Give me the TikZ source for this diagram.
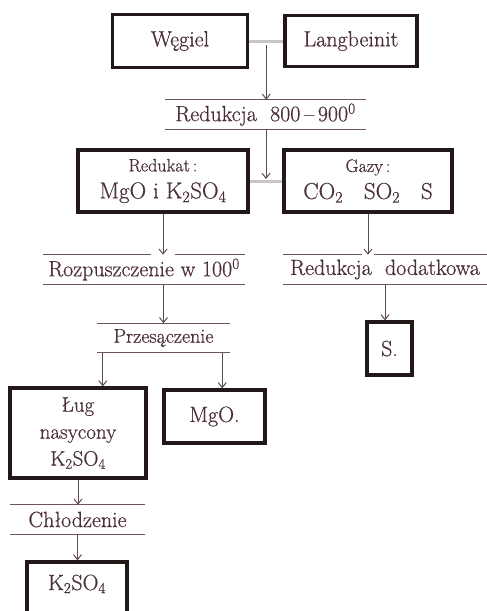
\documentclass[tikz,border=0pt]{standalone}
\usepackage{fontspec}
\setmainfont{Latin Modern Roman}[FakeBold=0.6]
\usetikzlibrary{positioning,arrows.meta}
\definecolor{cInk}{HTML}{4B2E3C}
\definecolor{cBox}{HTML}{231818}
\definecolor{cJn}{HTML}{C9C4C6}
\definecolor{cArr}{HTML}{5E4A54}
\definecolor{cRule}{HTML}{6A5560}

\begin{document}
\begin{tikzpicture}[x=1pt,y=1pt,
  every node/.style={text=cInk,font=\fontsize{22}{26}\selectfont},
  box/.style={draw=cBox,line width=3.2pt,inner sep=0pt,align=center},
  stage/.style={inner sep=0pt,minimum height=29pt},
  junc/.style={draw=cJn,line width=3pt},
  arr/.style={draw=cArr,line width=1pt,-{Straight Barb[length=5pt,width=8pt]}},
  rule/.style={draw=cRule,line width=1.2pt}]
\clip (0,0) rectangle (487,-611);
\fill[white] (0,0) rectangle (487,-611);
% --- raw materials ---
\node[box,minimum width=135pt,minimum height=53pt] (weg) at (180,-41) {Węgiel};
\node[box,minimum width=132pt,minimum height=51pt] (lang) at (351,-41) {Langbeinit};
\node[stage,minimum width=201pt] (red) at (265.5,-114.5) {Redukcja\ \ 800\,--\,900\textsuperscript{0}};
% --- products of reduction ---
\node[box,minimum width=170pt,minimum height=62pt] (redk) at (163,-181)
  {{\fontsize{18}{19}\selectfont Redukat\,:}\\[1pt] {\fontsize{23}{26}\selectfont MgO\ i\ K\textsubscript{2}SO\textsubscript{4}}};
\node[box,minimum width=168pt,minimum height=62pt] (gazy) at (368,-181)
  {{\fontsize{18}{19}\selectfont Gazy\,:}\\[1pt] {\fontsize{23}{26}\selectfont CO\textsubscript{2}\ \ \ SO\textsubscript{2}\ \ \ S}};
\node[stage,minimum width=202pt] (rozp) at (144,-269.5) {Rozpuszczenie w 100\textsuperscript{0}};
\node[stage,minimum width=204pt] (dod) at (385,-269.5) {Redukcja\ \ dodatkowa};
\node[stage,minimum width=133pt,font=\fontsize{20}{24}\selectfont] (prz) at (163.5,-338) {Przesączenie};
\node[box,minimum width=45pt,minimum height=53pt] (sb) at (389.5,-348.5) {S.};
% --- filtration ---
\node[box,minimum width=136pt,minimum height=90pt,font=\fontsize{21}{27}\selectfont] (lug) at (78,-433)
  {Ług\\nasycony\\K\textsubscript{2}SO\textsubscript{4}};
\node[box,minimum width=101pt,minimum height=53pt] (mgo) at (214.5,-416.5) {MgO.};
\node[stage,minimum width=135pt] (chl) at (77.5,-519.5) {Chłodzenie};
\node[box,minimum width=100pt,inner ysep=7pt,text height=21pt,text depth=24pt,anchor=base] (kso) at (77,-590)
  {K\textsubscript{2}SO\textsubscript{4}};
% --- rules of the stages ---
\foreach \n in {red,prz,chl}{\draw[rule] (\n.north west) -- (\n.north east);}
\foreach \n in {red,rozp,dod,prz,chl}{\draw[rule] (\n.south west) -- (\n.south east);}
\draw[rule] (rozp.north west) -- ([xshift=-12pt]redk.south |- rozp.north);
\draw[rule] ([xshift=12pt]redk.south |- rozp.north) -- (rozp.north east);
\draw[rule] (dod.north west) -- ([xshift=-6pt]gazy.south |- dod.north);
\draw[rule] ([xshift=6pt]gazy.south |- dod.north) -- (dod.north east);
% --- connectors ---
\draw[junc] (weg) -- coordinate (j1) (lang);
\draw[arr] ([yshift=-4pt]j1) -- (j1 |- red.north);
\draw[junc] (redk) -- coordinate (j2) (gazy);
\draw[arr] (j2 |- red.south) -- ([yshift=2pt]j2);
\draw[arr] (redk.south) -- (redk.south |- rozp.north);
\draw[arr] (gazy.south) -- (gazy.south |- dod.north);
\draw[arr] (prz.north |- rozp.south) -- (prz.north);
\draw[arr] (dod.south) -- (dod.south |- sb.north);
\coordinate (pl) at ([xshift=6pt]prz.south west);
\coordinate (pr) at ([xshift=-8pt]prz.south east);
\draw[arr] (pl) -- (pl |- lug.north);
\draw[arr] (pr) -- (pr |- mgo.north);
\draw[arr] (lug.south) -- (lug.south |- chl.north);
\draw[arr] (chl.south) -- (chl.south |- kso.north);
\end{tikzpicture}
\end{document}
